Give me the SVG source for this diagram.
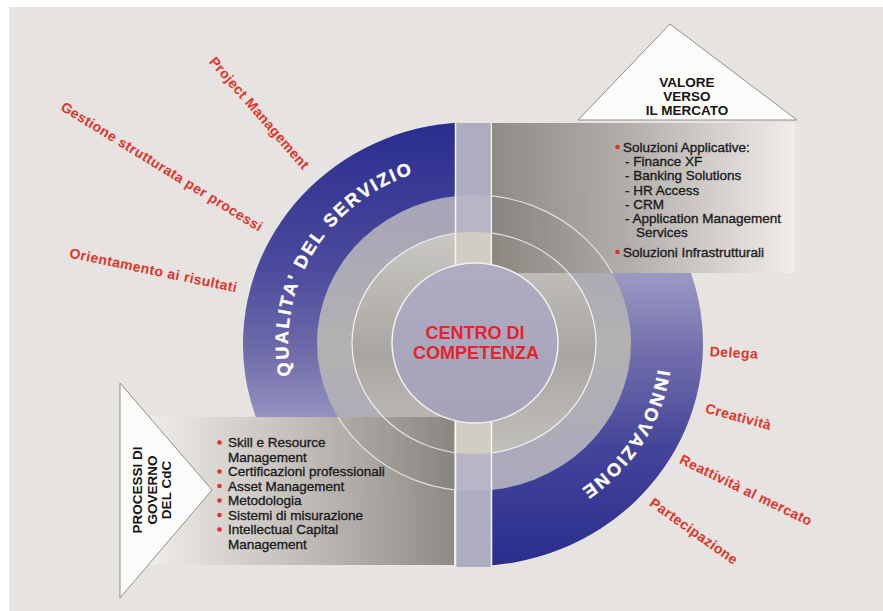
<svg xmlns="http://www.w3.org/2000/svg" width="883" height="611" viewBox="0 0 883 611">
<defs>
<style>
.bt{font-family:"Liberation Sans",Arial,sans-serif;font-size:13.5px;fill:#1c1c1c;stroke:#1c1c1c;stroke-width:0.35px}
.red{font-family:"Liberation Sans",Arial,sans-serif;font-weight:bold;font-size:14px;fill:#e3342c;letter-spacing:0.4px;text-anchor:middle}
.ring{font-family:"Liberation Sans",Arial,sans-serif;font-weight:bold;font-size:18px;fill:#ffffff;stroke:#ffffff;stroke-width:0.4px;letter-spacing:2.2px}
.hd{font-family:"Liberation Sans",Arial,sans-serif;font-weight:bold;font-size:13.5px;fill:#151515;text-anchor:middle}
.ctr{font-family:"Liberation Sans",Arial,sans-serif;font-weight:bold;font-size:18px;fill:#e5232a;text-anchor:middle}
.dot{fill:#e2302a}
.tri{fill:#fcfcfb;stroke:#8e8e8e;stroke-width:1}
</style>
<linearGradient id="gBlueL" x1="0" y1="121" x2="0" y2="417" gradientUnits="userSpaceOnUse">
<stop offset="0" stop-color="#2a2d8e"/><stop offset="0.5" stop-color="#4b4a9d"/><stop offset="0.78" stop-color="#6f6ca9"/><stop offset="1" stop-color="#9492c0"/>
</linearGradient>
<linearGradient id="gBlueR" x1="0" y1="273" x2="0" y2="566" gradientUnits="userSpaceOnUse">
<stop offset="0" stop-color="#9c9ac4"/><stop offset="0.25" stop-color="#7571ad"/><stop offset="0.6" stop-color="#434499"/><stop offset="1" stop-color="#2a2d8e"/>
</linearGradient>
<linearGradient id="gRingA" x1="0" y1="195" x2="0" y2="491" gradientUnits="userSpaceOnUse">
<stop offset="0" stop-color="#a6a4b9"/><stop offset="0.5" stop-color="#b3b1b1"/><stop offset="1" stop-color="#aaa8bd"/>
</linearGradient>
<linearGradient id="gRingB" x1="0" y1="232" x2="0" y2="454" gradientUnits="userSpaceOnUse">
<stop offset="0" stop-color="#cac8c2"/><stop offset="0.55" stop-color="#a9a6a2"/><stop offset="1" stop-color="#c2c0bb"/>
</linearGradient>
<linearGradient id="gCenter" x1="0" y1="263" x2="0" y2="423" gradientUnits="userSpaceOnUse">
<stop offset="0" stop-color="#aeacc1"/><stop offset="1" stop-color="#a5a3ba"/>
</linearGradient>
<linearGradient id="gBoxTR" x1="492" y1="0" x2="795" y2="0" gradientUnits="userSpaceOnUse">
<stop offset="0" stop-color="#86817b"/><stop offset="0.45" stop-color="#aca8a3"/><stop offset="1" stop-color="#f1efed"/>
</linearGradient>
<linearGradient id="gBoxBL" x1="150" y1="0" x2="454" y2="0" gradientUnits="userSpaceOnUse">
<stop offset="0" stop-color="#efece9"/><stop offset="0.5" stop-color="#bdb9b4"/><stop offset="1" stop-color="#85807a"/>
</linearGradient>
<clipPath id="cL"><rect x="0" y="0" width="455" height="417"/></clipPath>
<clipPath id="cR"><rect x="492" y="273" width="391" height="338"/></clipPath>
<clipPath id="cS"><rect x="455" y="123" width="37" height="444"/></clipPath>
<clipPath id="cBoxes"><rect x="492" y="123" width="303" height="150"/><rect x="150" y="417" width="304" height="148"/></clipPath>
<path id="pQ" d="M 292.1,380.2 A 186,179 0 0,1 467.5,164.1"/>
<path id="pI" d="M 659.3,358.6 A 186,179 0 0,1 474,522"/>
</defs>

<rect x="0" y="0" width="883" height="611" fill="#ffffff"/>
<rect x="9" y="7" width="874" height="604" fill="#e6e3e0"/>

<g id="ring-qualita">
<ellipse cx="473" cy="344" rx="230" ry="222" fill="url(#gBlueL)" clip-path="url(#cL)"/>
</g>
<g id="ring-innovazione">
<ellipse cx="473" cy="344" rx="230" ry="222" fill="url(#gBlueR)" clip-path="url(#cR)"/>
</g>

<g id="inner-rings">
<ellipse cx="474" cy="343" rx="157" ry="148" fill="url(#gRingA)"/>
<ellipse cx="474" cy="343" rx="122" ry="111" fill="url(#gRingB)" stroke="#f2f1ef" stroke-width="1.2"/>
</g>

<g id="strip">
<rect x="455" y="123" width="37" height="444" fill="#aeacc0"/>
<g clip-path="url(#cS)">
<ellipse cx="474" cy="343" rx="157" ry="148" fill="#b8b6c6"/>
<ellipse cx="474" cy="343" rx="122" ry="111" fill="#cfcdc4"/>
</g>
<line x1="455.5" y1="123" x2="455.5" y2="567" stroke="#f7f6f4" stroke-width="1.5"/>
<line x1="491.5" y1="123" x2="491.5" y2="567" stroke="#f7f6f4" stroke-width="1.5"/>
</g>

<g id="box-valore">
<rect x="492" y="123" width="303" height="150" fill="url(#gBoxTR)" opacity="0.9"/>
</g>
<g id="box-processi">
<rect x="150" y="417" width="304" height="148" fill="url(#gBoxBL)" opacity="0.9"/>
</g>
<g id="ring-lines" clip-path="url(#cBoxes)" fill="none" stroke="#f4f3f1" stroke-width="1.2" opacity="0.8">
<ellipse cx="474" cy="343" rx="157" ry="148"/>
<ellipse cx="474" cy="343" rx="122" ry="111"/>
</g>

<g id="centro">
<ellipse cx="475" cy="343" rx="83" ry="80" fill="url(#gCenter)" stroke="#f2f1ef" stroke-width="1.5"/>
<text class="ctr" x="475" y="338.5">CENTRO DI</text>
<text class="ctr" x="476" y="358.5">COMPETENZA</text>
</g>

<g id="ring-labels">
<text class="ring"><textPath href="#pQ" startOffset="5">QUALITA' DEL SERVIZIO</textPath></text>
<text class="ring"><textPath href="#pI" startOffset="11">INNOVAZIONE</textPath></text>
</g>

<g id="valore-text">
<circle class="dot" cx="617.5" cy="147" r="2.3"/>
<text class="bt" x="623" y="151.5">Soluzioni Applicative:</text>
<text class="bt" x="625" y="166">- Finance XF</text>
<text class="bt" x="625" y="180">- Banking Solutions</text>
<text class="bt" x="625" y="194.5">- HR Access</text>
<text class="bt" x="625" y="208.5">- CRM</text>
<text class="bt" x="625" y="223">- Application Management</text>
<text class="bt" x="636" y="237">Services</text>
<circle class="dot" cx="617.5" cy="252" r="2.3"/>
<text class="bt" x="623" y="256.5">Soluzioni Infrastrutturali</text>
</g>

<g id="processi-text">
<circle class="dot" cx="219.5" cy="442.5" r="2.3"/>
<text class="bt" x="228" y="447">Skill e Resource</text>
<text class="bt" x="228" y="461.5">Management</text>
<circle class="dot" cx="219.5" cy="471.5" r="2.3"/>
<text class="bt" x="228" y="476">Certificazioni professionali</text>
<circle class="dot" cx="219.5" cy="486" r="2.3"/>
<text class="bt" x="228" y="490.5">Asset Management</text>
<circle class="dot" cx="219.5" cy="500.5" r="2.3"/>
<text class="bt" x="228" y="505">Metodologia</text>
<circle class="dot" cx="219.5" cy="515" r="2.3"/>
<text class="bt" x="228" y="519.5">Sistemi di misurazione</text>
<circle class="dot" cx="219.5" cy="529.5" r="2.3"/>
<text class="bt" x="228" y="534">Intellectual Capital</text>
<text class="bt" x="228" y="548.5">Management</text>
</g>

<g id="tri-valore">
<polygon class="tri" points="578,120 797,120 670,24"/>
<text class="hd" x="687" y="87">VALORE</text>
<text class="hd" x="687" y="101">VERSO</text>
<text class="hd" x="687" y="115">IL MERCATO</text>
</g>

<g id="tri-processi">
<polygon class="tri" points="120,383 120,598 212,490"/>
<g transform="translate(0,490) rotate(-90)">
<text class="hd" x="0" y="142">PROCESSI DI</text>
<text class="hd" x="0" y="156.5">GOVERNO</text>
<text class="hd" x="0" y="171">DEL CdC</text>
</g>
</g>

<g id="labels-qualita">
<text class="red" transform="translate(259.5,113) rotate(49)" x="0" y="5">Project Management</text>
<text class="red" transform="translate(162,166.5) rotate(31.6)" x="0" y="5">Gestione strutturata per processi</text>
<text class="red" transform="translate(153.5,270) rotate(11.8)" x="0" y="5">Orientamento ai risultati</text>
</g>
<g id="labels-innovazione">
<text class="red" transform="translate(734,352.5) rotate(3)" x="0" y="5">Delega</text>
<text class="red" transform="translate(738.5,416.5) rotate(15)" x="0" y="5">Creatività</text>
<text class="red" transform="translate(746,490) rotate(25.8)" x="0" y="5">Reattività al mercato</text>
<text class="red" transform="translate(694,531) rotate(35.3)" x="0" y="5">Partecipazione</text>
</g>

<g id="connectors"></g>
</svg>
